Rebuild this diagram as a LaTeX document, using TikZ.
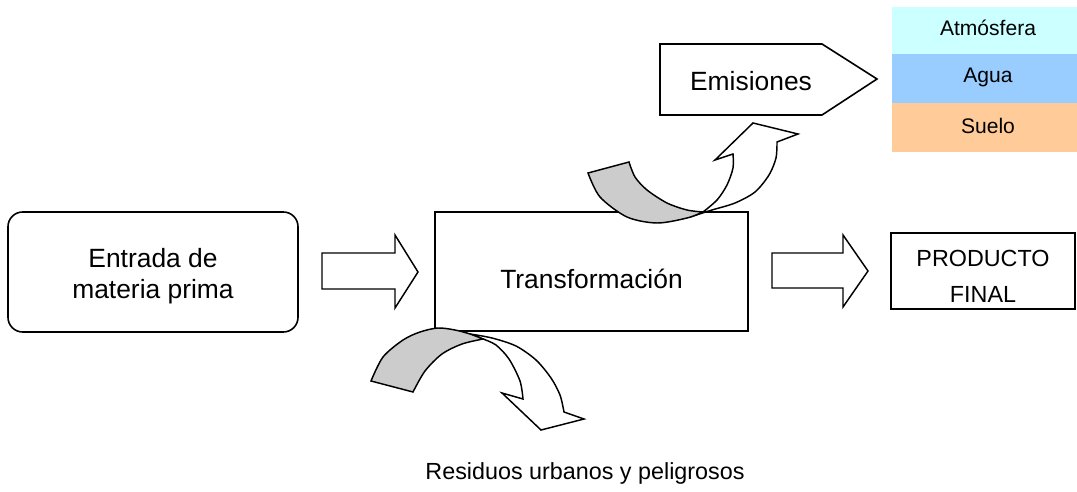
\documentclass[tikz,border=0pt]{standalone}
\usepackage{fontspec}
\setmainfont{Liberation Sans}
\usetikzlibrary{calc}
\definecolor{cieloclaro}{HTML}{CCFFFF}
\definecolor{aguaazul}{HTML}{99CCFF}
\definecolor{sueloocre}{HTML}{FFCC99}
\definecolor{reverso}{HTML}{CCCCCC}

\begin{document}
\begin{tikzpicture}[x=0.75pt, y=-0.75pt, line width=1.1pt, line join=miter,
    every node/.style={font=\fontsize{19.8}{23.5}\selectfont, inner sep=0pt},
    caja/.style={draw, fill=white, line width=1.2pt},
    capa/.style={font=\fontsize{15.8}{19}\selectfont, anchor=base},
    flecha/.style={draw, fill=white, line width=1.1pt}]
    \useasboundingbox (0,0) rectangle (1077,492);
    % Boxes
    \node[caja, rounded corners=11pt, minimum width=217.5pt, minimum height=90pt] (entrada) at (153,272) {};
    \node[align=center] (entradatxt) at (153,276) {Entrada de\\materia prima};
    \node[caja, minimum width=234.75pt, minimum height=89.25pt] (transf) at (591.5,271.5) {};
    \node[anchor=base] (transftxt) at (591.5,288) {Transformación};
    \node[caja, minimum width=138pt, minimum height=57pt] (producto) at (983,271) {};
    \node[align=center, font=\fontsize{17.5}{27}\selectfont] (productotxt) at (983,276) {PRODUCTO\\FINAL};
    % Block arrows
    \draw[flecha] (322,253) -- (395,253) -- (395,235) -- (418,272) -- (395,308) -- (395,289) -- (322,289) -- cycle;
    \draw[flecha] (772,253) -- (843,253) -- (843,235) -- (868,271) -- (843,307) -- (843,288) -- (772,288) -- cycle;
    % Emissions
    \draw[caja] (660,44) -- (822,44) -- (877,79) -- (822,115) -- (660,115) -- cycle;
    \node[anchor=base] (emisiones) at (751,90) {Emisiones};
    % Receiving media
    \fill[cieloclaro] (892,7) rectangle (1077,54);
    \fill[aguaazul] (892,54) rectangle (1077,103);
    \fill[sueloocre] (892,103) rectangle (1077,152);
    \node[capa] (atmosfera) at (988,36) {Atmósfera};
    \node[capa] (agua) at (988,83) {Agua};
    \node[capa] (suelo) at (988,133) {Suelo};
    % Curved arrow up
    \filldraw[fill=white] plot[smooth] coordinates {(690,217) (712,210) (735,203) (755,192) (769,175) (776,158) (777,142)}
        -- (798,134) -- (753,123) -- (715,160) -- (733,154)
        -- plot[smooth] coordinates {(733,154) (733,168) (727,185) (717,200) (703,212)} -- cycle;
    \filldraw[fill=reverso] plot[smooth] coordinates {(588,173) (600,197) (627,217) (657,223) (687,218) (703,212)}
        -- plot[smooth] coordinates {(703,212) (687,210) (667,203) (647,190) (635,177) (629,162)} -- cycle;
    % Curved arrow down
    \filldraw[fill=white] plot[smooth] coordinates {(470,334) (492,338) (516,346) (536,360) (551,378) (560,395) (564,412)}
        -- (584,419) -- (541,430) -- (502,393) -- (523,399)
        -- plot[smooth] coordinates {(523,399) (520,381) (509,359) (496,345) (483,339)} -- cycle;
    \filldraw[fill=reverso] plot[smooth] coordinates {(371,381) (383,357) (403,340) (420,332) (438,328) (455,330) (470,334) (483,339)}
        -- plot[smooth] coordinates {(483,339) (462,344) (442,354) (425,371) (413,392)} -- cycle;
    \node[anchor=base, font=\fontsize{17.5}{21}\selectfont] (residuos) at (585,479) {Residuos urbanos y peligrosos};
\end{tikzpicture}
\end{document}
